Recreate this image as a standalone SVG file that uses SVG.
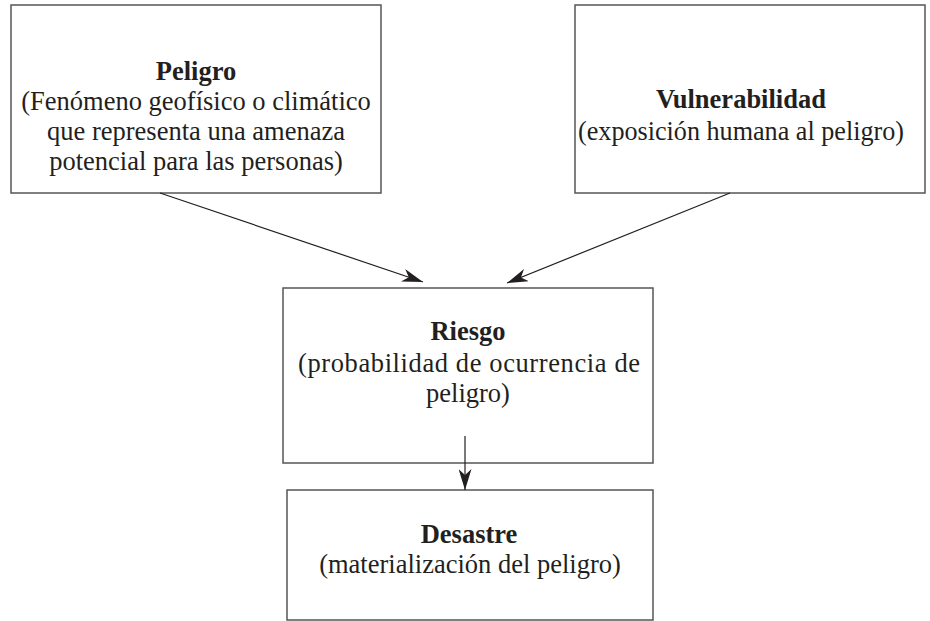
<svg xmlns="http://www.w3.org/2000/svg" width="930" height="621" viewBox="0 0 930 621">
<style>
.box{fill:#fff;stroke:#555;stroke-width:1.5}
.t{font-family:'Liberation Serif','Times New Roman','DejaVu Serif',serif;font-size:26.5px;fill:#231f20;text-anchor:middle}
.b{font-weight:bold}
.c{stroke:#231f20;stroke-width:1.2;fill:none}
</style>
<defs>
<marker id="ah" viewBox="0 0 21 13" refX="21" refY="6.5" markerWidth="21" markerHeight="13" markerUnits="userSpaceOnUse" orient="auto">
<path d="M0,0 L21,6.5 L0,13 L6,6.5 Z" fill="#231f20"/>
</marker>
</defs>
<rect width="930" height="621" fill="#fff"/>
<g id="peligro">
<rect class="box" x="11" y="5" width="370" height="188"/>
<text class="t b" x="196" y="80">Peligro</text>
<text class="t" x="196" y="110">(Fenómeno geofísico o climático</text>
<text class="t" x="196" y="140">que representa una amenaza</text>
<text class="t" x="196" y="170">potencial para las personas)</text>
</g>
<g id="vulnerabilidad">
<rect class="box" x="575" y="5" width="350" height="188"/>
<text class="t b" x="741" y="108">Vulnerabilidad</text>
<text class="t" x="741" y="140" textLength="326" lengthAdjust="spacingAndGlyphs">(exposición humana al peligro)</text>
</g>
<g id="riesgo">
<rect class="box" x="283" y="288" width="370" height="175"/>
<text class="t b" x="468" y="340">Riesgo</text>
<text class="t" x="469" y="372" textLength="342" lengthAdjust="spacing">(probabilidad de ocurrencia de</text>
<text class="t" x="468" y="402">peligro)</text>
</g>
<g id="desastre">
<rect class="box" x="287" y="490" width="366" height="130"/>
<text class="t b" x="469" y="543">Desastre</text>
<text class="t" x="470" y="573">(materialización del peligro)</text>
</g>
<g id="connectors">
<line class="c" x1="160" y1="193" x2="423" y2="282" marker-end="url(#ah)"/>
<line class="c" x1="730" y1="193" x2="507" y2="283" marker-end="url(#ah)"/>
<line class="c" x1="465" y1="436" x2="465" y2="490" marker-end="url(#ah)"/>
</g>
</svg>
